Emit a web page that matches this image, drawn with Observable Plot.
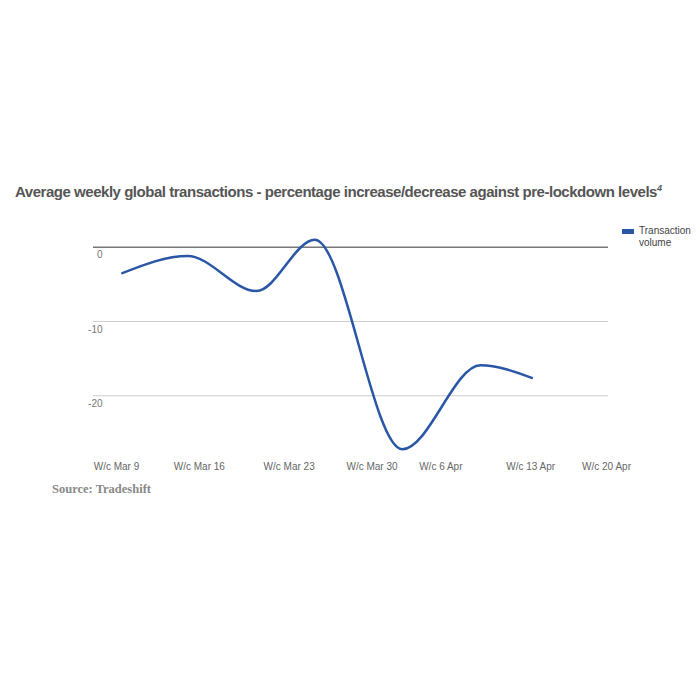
<!DOCTYPE html>
<html>
<head>
<meta charset="utf-8">
<script src="https://cdn.jsdelivr.net/npm/d3@7"></script>
<script src="https://cdn.jsdelivr.net/npm/@observablehq/plot@0.6"></script>
<style>
  html, body { margin: 0; padding: 0; background: #fff; }
  #wrap { position: relative; width: 700px; height: 700px; overflow: hidden; font-family: "Liberation Sans", Arial, sans-serif; }
  #title { position: absolute; left: 15px; top: 183px; font-size: 15px; font-weight: bold; color: #555; white-space: nowrap; }
  #title sup { font-size: 9px; font-style: italic; vertical-align: 6px; line-height: 0; letter-spacing: 0; }
  #chart { position: absolute; left: 0; top: 210px; }
  #legend { position: absolute; left: 622px; top: 225px; font-size: 10px; color: #444; line-height: 12px; }
  #legend .sw { position: absolute; left: 0; top: 4px; width: 12px; height: 5px; background: #2a56a6; }
  #legend .tx { position: absolute; left: 17px; top: 0; white-space: nowrap; }
  #source { position: absolute; left: 52px; top: 482px; font-family: "Liberation Serif", "DejaVu Serif", serif; font-weight: bold; font-size: 12.5px; color: #888; white-space: nowrap; }
</style>
</head>
<body>
<div id="wrap">
  <div id="title"><span id="tmain">Average weekly global transactions - percentage increase/decrease against pre-lockdown levels</span><sup>4</sup></div>
  <div id="chart"></div>
  <div id="legend"><div class="sw"></div><div class="tx">Transaction<br>volume</div></div>
  <div id="source">Source: Tradeshift</div>
</div>
<script>
// Days since W/c Mar 9 (positions)
const pointDays = [0.5, 6.1, 12.0, 17.0, 24.5, 31.2, 35.6];
const pointValues = [-3.5, -1.2, -5.9, 1.0, -27.2, -15.9, -17.6];
const tickDays = [0, 7.1, 14.8, 21.9, 27.8, 35.5, 42];
const tickLabels = ["W/c Mar 9", "W/c Mar 16", "W/c Mar 23", "W/c Mar 30", "W/c 6 Apr", "W/c 13 Apr", "W/c 20 Apr"];
const yTicks = [0, -10, -20];
const seriesName = "Transaction volume";

const data = pointDays.map((d, i) => ({day: d, value: pointValues[i], series: seriesName}));

const chart = Plot.plot({
  width: 700,
  height: 280,
  marginLeft: 93,
  marginRight: 92,
  marginTop: 21.8,
  marginBottom: 35.3,
  style: {fontFamily: "Liberation Sans, Arial, sans-serif", background: "transparent"},
  x: {domain: [-1.97, 42.17]},
  y: {domain: [-28, 2]},
  marks: [
    Plot.ruleY([-10, -20], {stroke: "#cccccc", strokeWidth: 1}),
    Plot.ruleY([0], {stroke: "#777777", strokeWidth: 1.5}),
    Plot.axisY(yTicks, {anchor: "left", tickSize: 0, tickPadding: -9, dy: 8, fontSize: 10, fill: "#777", label: null, textAnchor: "end",
      tickFormat: d => String(d)}),
    Plot.axisX(tickDays, {anchor: "bottom", tickSize: 0, tickPadding: 8, fontSize: 10, fill: "#666", label: null,
      tickFormat: (d, i) => tickLabels[i]}),
    Plot.line(data, {x: "day", y: "value", stroke: "#2a56a6", strokeWidth: 2.5, curve: "monotone-x"})
  ]
});
document.getElementById("chart").appendChild(chart);

// Fit the title to the width it has in the reference (x 15 → ~657)
const tmain = document.getElementById("tmain");
const target = 642;
const w = tmain.getBoundingClientRect().width;
const n = tmain.textContent.length;
tmain.style.letterSpacing = ((target - w) / n) + "px";
</script>
</body>
</html>
